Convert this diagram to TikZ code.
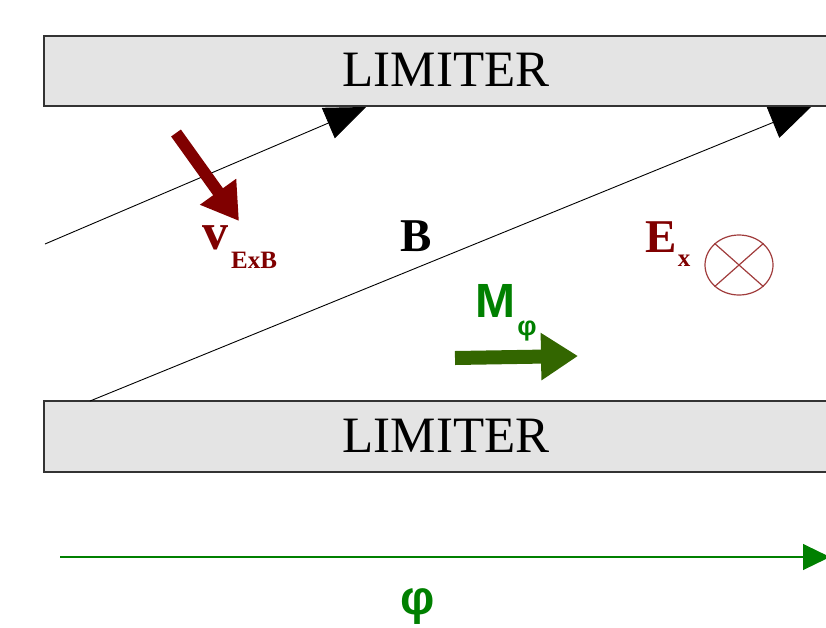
\documentclass[tikz,border=0pt]{standalone}
\usepackage{fontspec}
\setmainfont{Liberation Serif}
\newfontfamily\lsans{Liberation Sans}
\usetikzlibrary{arrows.meta,shapes.geometric}
\definecolor{maroon}{RGB}{128,0,0}
\definecolor{olivegr}{RGB}{51,102,0}
\definecolor{grn}{RGB}{0,128,0}
\definecolor{limfill}{RGB}{228,228,228}
\definecolor{circ}{RGB}{160,60,60}
\tikzset{
  limiter/.style={draw=black!80, line width=1.2pt, fill=limfill},
  limtext/.style={font=\fontsize{51}{51}\selectfont, inner sep=0pt},
  fieldline/.style={draw=black, line width=0.9pt, -{Triangle[length=41pt,width=33pt]}},
  serlab/.style={font=\bfseries\fontsize{47}{47}\selectfont, inner sep=0pt},
  sublab/.style={font=\bfseries\fontsize{25}{25}\selectfont, inner sep=0pt},
  sanslab/.style={font=\lsans\bfseries\fontsize{48}{48}\selectfont, inner sep=0pt, text=grn},
}
\begin{document}
\begin{tikzpicture}[x=1pt,y=-1pt]
\useasboundingbox (0,0) rectangle (826,627);
% limiters
\path[limiter] (44,36) rectangle (830,106);
\node[limtext] (limtop) at (446,70) {LIMITER};
\path[limiter] (44,401) rectangle (830,472);
\node[limtext] (limbot) at (446,436) {LIMITER};
% field lines
\coordinate (f1s) at (45,244);
\coordinate (f1e) at (366,107);
\coordinate (f2s) at (90,401);
\coordinate (f2e) at (811,107);
\draw[fieldline] (f1s) -- (f1e);
\draw[fieldline] (f2s) -- (f2e);
% v ExB
\coordinate (vs) at (176,133);
\coordinate (ve) at (239,221);
\draw[maroon, line width=12pt, -{Triangle[length=36pt,width=42pt]}] (vs) -- (ve);
\node[serlab, text=maroon, font=\bfseries\fontsize{52}{52}\selectfont] (v) at (215,238) {v};
\node[sublab, text=maroon] (vsub) at (254,260) {ExB};
% B
\node[serlab] (B) at (416,236) {B};
% E_x
\node[serlab, text=maroon] (E) at (661,237) {E};
\node[sublab, text=maroon] (Esub) at (684,261) {x};
\node[draw=circ, line width=1.2pt, ellipse, minimum width=68pt, minimum height=60pt, inner sep=0pt] (ecirc) at (739,265) {};
\draw[circ, line width=1.2pt] (ecirc.north west) -- (ecirc.south east);
\draw[circ, line width=1.2pt] (ecirc.north east) -- (ecirc.south west);
% M_phi
\node[sanslab] (M) at (495,301) {M};
\node[sanslab, font=\lsans\bfseries\fontsize{27}{27}\selectfont] (Msub) at (527,331) {φ};
\coordinate (ms) at (455,358);
\coordinate (me) at (578,356);
\draw[olivegr, line width=14pt, -{Triangle[length=37pt,width=45pt]}] (ms) -- (me);
% phi axis
\coordinate (as) at (60,557);
\coordinate (ae) at (830,557);
\draw[grn, line width=1.1pt, -{Triangle[length=27pt,width=26pt]}] (as) -- (ae);
\node[sanslab] (phi) at (418,607) {φ};
\end{tikzpicture}
\end{document}
